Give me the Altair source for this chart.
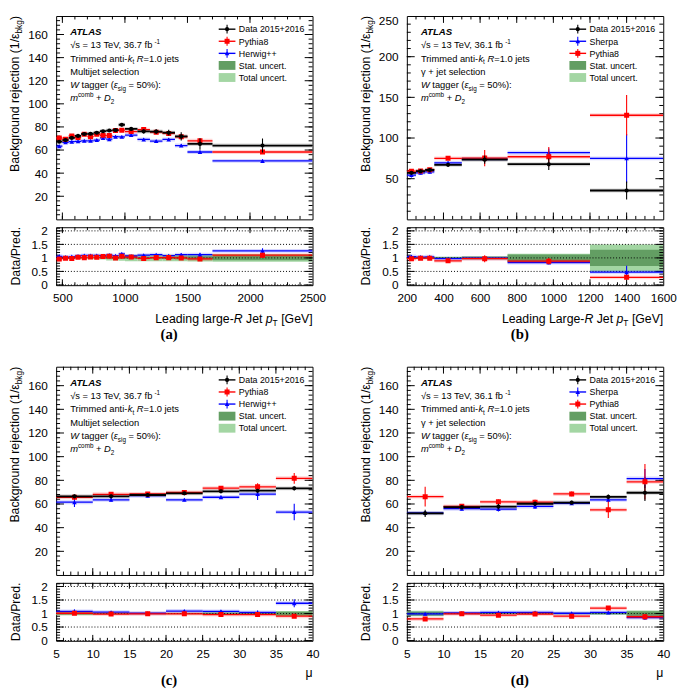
import altair as alt
import numpy as np
import pandas as pd

FONT = "Liberation Sans"
W, HR = 261, 59
VSP = 4
RED, BLUE, DKG, LTG = "#ff0000", "#0000ff", "#639e63", "#a3d6a3"
RDOM = [-0.01, 2.135]

# ---------------- data ----------------
# (a) multijet selection vs leading large-R jet pT [GeV]
a_edges = [450, 500, 550, 600, 650, 700, 750, 800, 850, 900, 950, 1000, 1100, 1200, 1300, 1400, 1500, 1700, 2500]
a_data = [67.2, 68.6, 70.5, 72.2, 73.9, 74.1, 75.0, 76.3, 76.9, 77.2, 81.9, 78.3, 76.1, 76.0, 75.0, 71.8, 65.3, 63.9]
a_data_err = [1.0, 1.0, 1.0, 1.0, 1.0, 1.0, 1.0, 1.0, 1.0, 1.2, 1.5, 1.5, 1.8, 2.0, 2.5, 3.5, 5.0, 6.0]
a_pythia = [70.5, 69.4, 72.2, 70.8, 73.6, 71.6, 73.6, 72.8, 72.5, 77.0, 77.2, 76.0, 77.7, 75.5, 74.4, 71.5, 68.0, 58.3]
a_pythia_err = [0.8, 0.8, 0.8, 0.8, 0.8, 0.8, 0.8, 0.8, 0.8, 0.9, 0.9, 0.9, 1.0, 1.0, 1.0, 1.2, 1.3, 1.5]
a_herwig = [63.3, 66.7, 67.2, 67.5, 68.0, 68.0, 68.6, 70.5, 69.4, 71.6, 71.4, 73.0, 69.2, 67.8, 69.2, 63.9, 58.3, 50.6]
a_herwig_err = [0.8, 0.8, 0.8, 0.8, 0.8, 0.8, 0.8, 0.8, 0.8, 0.9, 0.9, 0.9, 1.0, 1.0, 1.0, 1.2, 1.3, 1.5]
a_r_pythia = [0.96, 0.99, 0.98, 1.02, 1.01, 1.03, 1.02, 1.05, 1.06, 1.00, 1.06, 1.03, 0.98, 1.01, 1.01, 1.00, 0.96, 1.10]
a_r_pythia_err = [0.02, 0.02, 0.02, 0.02, 0.02, 0.02, 0.02, 0.02, 0.02, 0.02, 0.03, 0.03, 0.03, 0.03, 0.04, 0.05, 0.07, 0.09]
a_r_herwig = [1.06, 1.03, 1.05, 1.07, 1.09, 1.09, 1.09, 1.08, 1.11, 1.08, 1.15, 1.07, 1.10, 1.12, 1.08, 1.12, 1.12, 1.26]
a_r_herwig_err = [0.02, 0.02, 0.02, 0.02, 0.02, 0.02, 0.02, 0.02, 0.02, 0.02, 0.03, 0.03, 0.03, 0.03, 0.04, 0.05, 0.07, 0.10]
a_stat = [0.015, 0.015, 0.015, 0.015, 0.015, 0.015, 0.015, 0.015, 0.02, 0.02, 0.02, 0.03, 0.03, 0.03, 0.04, 0.05, 0.06, 0.09]
a_total = [0.03, 0.03, 0.03, 0.04, 0.04, 0.05, 0.05, 0.06, 0.10, 0.10, 0.11, 0.12, 0.12, 0.12, 0.12, 0.12, 0.13, 0.14]

# (b) gamma + jet selection vs leading large-R jet pT [GeV]
b_edges = [200, 250, 300, 350, 500, 750, 1200, 1600]
b_data = [57.2, 59.2, 60.7, 67.0, 73.4, 67.8, 35.5]
b_data_err = [2.0, 2.0, 2.0, 2.0, 5.0, 7.0, 11.0]
b_sherpa = [54.4, 57.2, 58.4, 69.4, 74.2, 82.0, 75.0]
b_sherpa_err = [3.0, 2.0, 2.0, 2.0, 2.0, 5.0, 30.0]
b_pythia = [59.2, 59.6, 61.1, 75.0, 75.3, 77.0, 128.0]
b_pythia_err = [2.0, 2.0, 2.0, 2.0, 10.0, 12.0, 25.0]
b_r_sherpa = [1.05, 1.03, 1.04, 0.97, 0.99, 0.83, 0.47]
b_r_sherpa_err = [0.04, 0.03, 0.03, 0.03, 0.03, 0.06, 0.24]
b_r_pythia = [0.97, 0.99, 0.99, 0.89, 0.97, 0.88, 0.28]
b_r_pythia_err = [0.03, 0.03, 0.03, 0.03, 0.13, 0.12, 0.06]
b_stat = [0.03, 0.03, 0.03, 0.03, 0.04, 0.13, 0.30]
b_total = [0.04, 0.04, 0.04, 0.04, 0.06, 0.15, 0.50]

# (c) multijet selection vs pile-up mu
mu_edges = [5, 10, 15, 20, 25, 30, 35, 40]
c_data = [66.5, 66.5, 67.6, 69.0, 70.7, 71.2, 73.2]
c_data_err = [1.5, 1.5, 1.2, 1.2, 1.3, 1.5, 1.5]
c_pythia = [65.7, 68.2, 68.5, 69.8, 73.4, 74.5, 81.7]
c_pythia_err = [1.5, 1.5, 1.2, 1.2, 1.5, 3.0, 4.5]
c_herwig = [61.5, 63.5, 67.0, 63.5, 65.7, 68.4, 53.2]
c_herwig_err = [4.0, 1.5, 1.2, 1.2, 1.5, 5.0, 7.0]
c_r_pythia = [1.01, 0.98, 0.99, 0.99, 0.96, 0.96, 0.90]
c_r_pythia_err = [0.03, 0.02, 0.02, 0.02, 0.02, 0.04, 0.05]
c_r_herwig = [1.08, 1.05, 1.01, 1.09, 1.08, 1.04, 1.38]
c_r_herwig_err = [0.07, 0.03, 0.02, 0.02, 0.03, 0.07, 0.15]
c_stat = [0.04, 0.02, 0.02, 0.02, 0.03, 0.03, 0.07]
c_total = [0.06, 0.03, 0.03, 0.03, 0.05, 0.05, 0.09]

# (d) gamma + jet selection vs pile-up mu
d_data = [52.1, 57.3, 57.8, 60.2, 61.2, 66.0, 69.5]
d_data_err = [3.0, 1.5, 2.5, 2.0, 1.5, 2.0, 7.0]
d_sherpa = [52.5, 56.0, 55.7, 57.9, 60.6, 63.5, 81.5]
d_sherpa_err = [1.5, 1.5, 2.0, 2.0, 1.5, 2.0, 8.0]
d_pythia = [66.2, 58.0, 61.8, 61.5, 68.5, 55.1, 78.7]
d_pythia_err = [8.3, 2.0, 2.0, 2.0, 2.0, 7.0, 15.0]
d_r_sherpa = [0.99, 1.02, 1.04, 1.04, 1.01, 1.04, 0.85]
d_r_sherpa_err = [0.03, 0.02, 0.03, 0.03, 0.02, 0.03, 0.08]
d_r_pythia = [0.80, 0.99, 0.94, 0.98, 0.90, 1.20, 0.88]
d_r_pythia_err = [0.06, 0.03, 0.03, 0.03, 0.03, 0.08, 0.10]
d_stat = [0.07, 0.02, 0.02, 0.02, 0.02, 0.03, 0.08]
d_total = [0.10, 0.03, 0.03, 0.03, 0.04, 0.05, 0.11]

# axis tick labels
pt_a_ticks = [500, 1000, 1500, 2000, 2500]
pt_b_ticks = [200, 400, 600, 800, 1000, 1200, 1400, 1600]
mu_ticks = [5, 10, 15, 20, 25, 30, 35, 40]
rej_ticks = [20, 40, 60, 80, 100, 120, 140, 160]
rej_b_ticks = [50, 100, 150, 200, 250]
ratio_ticks = [0, 0.5, 1, 1.5, 2]

# ---------------- helpers ----------------
ONE = pd.DataFrame({"o": [0]})
AW = {ch: 556 for ch in "0123456789"}
AW.update({' ': 278, '!': 278, '(': 333, ')': 333, '+': 584, ',': 278, '-': 333, '.': 278, '/': 278,
           ':': 278, '=': 584, '%': 889, '[': 278, ']': 278, '√': 549, 'ε': 439, 'γ': 500, 'μ': 576})
AW.update(dict(A=667, B=667, C=722, D=722, E=667, F=611, G=778, H=722, I=278, J=500, K=667, L=556, M=833,
               N=722, O=778, P=667, Q=778, R=722, S=667, T=611, U=722, V=667, W=944, X=667, Y=667, Z=611))
AW.update(dict(a=556, b=556, c=500, d=556, e=556, f=278, g=556, h=556, i=222, j=222, k=500, l=222, m=833,
               n=556, o=556, p=556, q=556, r=333, s=500, t=278, u=556, v=500, w=722, x=500, y=500, z=500))
BOLDW = dict(A=722, T=611, L=611, S=667)


def tw(s, size, bold=False):
    return sum((BOLDW.get(ch, AW.get(ch, 556)) if bold else AW.get(ch, 556)) for ch in s) / 1000 * size


def txt(s, x, y, size, style="normal", weight="normal", align="left", angle=0, font=FONT):
    kw = dict(align=align, baseline="alphabetic", fontSize=size, fontStyle=style,
              fontWeight=weight, font=font, color="black")
    if angle:
        kw["angle"] = angle
    return alt.Chart(ONE).mark_text(**kw).encode(x=alt.value(x), y=alt.value(y), text=alt.value(s))


def piece_fmt(kind, size):
    fs = size * 0.68 if kind in ("sub", "sup") else size
    off = size * 0.3 if kind == "sub" else (-size * 0.42 if kind == "sup" else 0)
    style = "italic" if kind in ("i", "bi") else "normal"
    weight = "bold" if kind == "bi" else "normal"
    return fs, off, style, weight


def rich(pieces, x, y, size):
    """left-anchored run of text pieces (normal / italic / sub / superscript)"""
    out, pos = [], 0.0
    for s, kind in pieces:
        fs, off, style, weight = piece_fmt(kind, size)
        lead = len(s) - len(s.lstrip(" "))
        core = s.strip(" ")
        if core:
            out.append(txt(core, x + pos + tw(" " * lead, fs), y + off, fs, style, weight))
        pos += tw(s, fs, kind == "bi")
    return out


def rich_end(pieces, x, y, size, angle=0):
    """run of text pieces whose END sits at (x, y); for angle 270 the text reads upwards and ends at y"""
    out, pos = [], 0.0
    for s, kind in reversed(pieces):
        fs, off, style, weight = piece_fmt(kind, size)
        trail = len(s) - len(s.rstrip(" "))
        core = s.strip(" ")
        p = pos + tw(" " * trail, fs)
        if core:
            if angle == 270:
                out.append(txt(core, x + off, y + p, fs, style, weight, align="right", angle=270))
            else:
                out.append(txt(core, x - p, y + off, fs, style, weight, align="right"))
        pos += tw(s, fs, kind == "bi")
    return out


def inside(vals, dom):
    return [v for v in vals if dom[0] + 1e-9 < v < dom[1] - 1e-9]


def yaxis(vals, flush=False):
    return alt.Axis(values=vals, format=".2~f", title=None, ticks=False, domain=False, grid=False,
                    labelFont=FONT, labelFontSize=12, labelColor="black", labelPadding=9,
                    labelFlush=flush, labelOverlap=False)


def xaxis(vals):
    return alt.Axis(values=vals, format=".2~f", title=None, ticks=False, domain=False, grid=False,
                    labelFont=FONT, labelFontSize=12, labelColor="black", labelPadding=8,
                    labelFlush=False, labelOverlap=False)


class Pad:
    """encoding factories for one pad, so that every layer carries the same scales and axes"""

    def __init__(self, xs, ys, xa, ya, xdom, ydom, w, h):
        self.xs, self.ys, self.xa, self.ya = xs, ys, xa, ya
        self.xdom, self.ydom, self.w, self.h = xdom, ydom, w, h

    def X(self, f):
        return alt.X(f + ":Q", scale=self.xs, axis=self.xa)

    def Y(self, f):
        return alt.Y(f + ":Q", scale=self.ys, axis=self.ya)


def tick_layers(P, xmaj, xmin, ymaj, ymin, lx, ly):
    L = []
    for vals, ln in ((ymaj, ly[0]), (ymin, ly[1])):
        df = pd.DataFrame({"t": inside(vals, P.ydom)})
        for a, b in ((0, ln), (P.w - ln, P.w)):
            L.append(alt.Chart(df).mark_rule(color="black", strokeWidth=1).encode(
                y=P.Y("t"), x=alt.value(a), x2=alt.value(b)))
    for vals, ln in ((xmaj, lx[0]), (xmin, lx[1])):
        df = pd.DataFrame({"t": inside(vals, P.xdom)})
        for a, b in ((P.h, P.h - ln), (0, ln)):
            L.append(alt.Chart(df).mark_rule(color="black", strokeWidth=1).encode(
                x=P.X("t"), y=alt.value(a), y2=alt.value(b)))
    return L


def sdf(edges, vals, errs):
    lo, hi = edges[:-1], edges[1:]
    return pd.DataFrame({"lo": lo, "hi": hi, "c": [(l + h) / 2 for l, h in zip(lo, hi)], "v": vals,
                         "v1": [v - e for v, e in zip(vals, errs)], "v2": [v + e for v, e in zip(vals, errs)]})


def series(df, P, color, shape, size, lw):
    b = alt.Chart(df)
    return [
        b.mark_rule(color=color, strokeWidth=4, opacity=0.16, clip=True).encode(x=P.X("lo"), x2="hi:Q", y=P.Y("v")),
        b.mark_rule(color=color, strokeWidth=lw, clip=True).encode(x=P.X("lo"), x2="hi:Q", y=P.Y("v")),
        b.mark_rule(color=color, strokeWidth=1.1, clip=True).encode(x=P.X("c"), y=P.Y("v1"), y2="v2:Q"),
        b.mark_point(shape=shape, size=size, filled=True, opacity=1, color=color, clip=True).encode(
            x=P.X("c"), y=P.Y("v")),
    ]


def legend_layers(entries):
    L = []
    x0, x1, xc, tx = 165.5, 182.5, 174, 186
    for i, e in enumerate(entries):
        yb = 16.7 + 12.3 * i
        yc = yb - 3.3
        if e[1] == "pt":
            col = e[2]
            L.append(alt.Chart(ONE).mark_rule(color=col, strokeWidth=1.4).encode(
                x=alt.value(x0), x2=alt.value(x1), y=alt.value(yc)))
            L.append(alt.Chart(ONE).mark_rule(color=col, strokeWidth=1.1).encode(
                x=alt.value(xc), y=alt.value(yc - 4.5), y2=alt.value(yc + 4.5)))
            L.append(alt.Chart(ONE).mark_point(shape=e[3], size=e[4], filled=True, opacity=1, color=col).encode(
                x=alt.value(xc), y=alt.value(yc)))
        else:
            L.append(alt.Chart(ONE).mark_rect(color=e[2]).encode(
                x=alt.value(x0), x2=alt.value(x1), y=alt.value(yc - 4.5), y2=alt.value(yc + 4.5)))
        L.append(txt(e[0], tx, yb, 9))
    return L


YTITLE = [("Background rejection (1/", "n"), ("ε", "n"), ("bkg", "sub"), (")", "n")]
SZ_D, SZ_P, SZ_T = 18, 26, 22   # marker areas: data circle, Pythia square, triangle


def make_panel(C):
    xdom, ydom, H = C["xdom"], C["ydom"], C["h"]
    xs = alt.Scale(domain=xdom, nice=False, zero=False)
    ys = alt.Scale(domain=ydom, nice=False, zero=False)
    rs = alt.Scale(domain=RDOM, nice=False, zero=False)
    edges = C["edges"]
    PM = Pad(xs, ys, None, yaxis(C["ylab"], flush=True), xdom, ydom, W, H)
    PR = Pad(xs, rs, xaxis(C["xmaj"]), yaxis(ratio_ticks), xdom, RDOM, W, HR)

    # ---- main pad ----
    M = tick_layers(PM, C["xmaj"], C["xmin"], C["ylab"], C["ymin"], (7, 3.5), (8, 4))
    for m in C["models"]:
        M += series(sdf(edges, m["v"], m["e"]), PM, m["color"], m["shape"], m["size"], 1.3)
    M += series(sdf(edges, C["data"], C["data_err"]), PM, "black", "circle", SZ_D, 1.8)
    ann = [
        [("ATLAS", "bi")],
        [("√s = 13 TeV, " + C["lumi"] + " fb", "n"), ("-1", "sup")],
        [("Trimmed anti-", "n"), ("k", "i"), ("t", "sub"), (" ", "n"), ("R", "i"), ("=1.0 jets", "n")],
        [(C["sel"], "n")],
        [("W", "i"), (" tagger (", "n"), ("ε", "i"), ("sig", "sub"), (" = 50%):", "n")],
        [("m", "i"), ("comb", "sup"), (" + ", "n"), ("D", "i"), ("2", "sub")],
    ]
    for i, line in enumerate(ann):
        M += rich(line, 14.3, 19.5 + 13.45 * i, 9.5 if i else 9.8)
    M += legend_layers(C["legend"])
    M += rich_end(YTITLE, -38, 0, 12.5, angle=270)
    main = alt.layer(*M).properties(width=W, height=H)

    # ---- ratio pad ----
    bd = pd.DataFrame({"lo": edges[:-1], "hi": edges[1:],
                       "s1": [1 - s for s in C["stat"]], "s2": [1 + s for s in C["stat"]],
                       "t1": [1 - s for s in C["total"]], "t2": [1 + s for s in C["total"]]})
    R = [alt.Chart(bd).mark_rect(color=LTG, clip=True).encode(x=PR.X("lo"), x2="hi:Q", y=PR.Y("t1"), y2="t2:Q"),
         alt.Chart(bd).mark_rect(color=DKG, clip=True).encode(x=PR.X("lo"), x2="hi:Q", y=PR.Y("s1"), y2="s2:Q"),
         alt.Chart(pd.DataFrame({"g": ratio_ticks})).mark_rule(
             color="black", strokeWidth=1, strokeDash=[1, 2]).encode(y=PR.Y("g"), x=alt.value(0), x2=alt.value(W))]
    R += tick_layers(PR, C["xmaj"], C["xmin"], ratio_ticks,
                     list(np.round(np.arange(0.1, 2.15, 0.1), 2)), (6, 3), (8, 4))
    for m in C["models"]:
        R += series(sdf(edges, m["r"], m["re"]), PR, m["color"], m["shape"], m["size"], 1.3)
    R.append(txt("Data/Pred.", -37, HR / 2, 12.5, align="center", angle=270))
    R += rich_end(C["xtitle"], W, HR + C["xt_dy"], 12.5)
    R.append(txt(C["label"], 115, HR + C["lab_dy"], 15, weight="bold", align="center", font="Liberation Serif"))
    ratio = alt.layer(*R).properties(width=W, height=HR)
    return alt.vconcat(main, ratio, spacing=VSP)


def mod(v, e, r, re, color, shape, size):
    return dict(v=v, e=e, r=r, re=re, color=color, shape=shape, size=size)


PY = lambda v, e, r, re: mod(v, e, r, re, RED, "square", SZ_P)
TRI = lambda v, e, r, re: mod(v, e, r, re, BLUE, "triangle-up", SZ_T)

LEG_MJ = [("Data 2015+2016", "pt", "black", "circle", SZ_D), ("Pythia8", "pt", RED, "square", SZ_P),
          ("Herwig++", "pt", BLUE, "triangle-up", SZ_T), ("Stat. uncert.", "box", DKG), ("Total uncert.", "box", LTG)]
LEG_GJ = [("Data 2015+2016", "pt", "black", "circle", SZ_D), ("Sherpa", "pt", BLUE, "triangle-up", SZ_T),
          ("Pythia8", "pt", RED, "square", SZ_P), ("Stat. uncert.", "box", DKG), ("Total uncert.", "box", LTG)]

PT_A_TITLE = [("Leading large-", "n"), ("R", "i"), (" Jet ", "n"), ("p", "i"), ("T", "sub"), (" [GeV]", "n")]
PT_B_TITLE = [("Leading Large-", "n"), ("R", "i"), (" Jet ", "n"), ("p", "i"), ("T", "sub"), (" [GeV]", "n")]
MU_TITLE = [("μ", "n")]

panel_a = make_panel(dict(
    h=207, xdom=[450, 2500], ydom=[0, 176], edges=a_edges, data=a_data, data_err=a_data_err,
    models=[TRI(a_herwig, a_herwig_err, a_r_herwig, a_r_herwig_err),
            PY(a_pythia, a_pythia_err, a_r_pythia, a_r_pythia_err)],
    stat=a_stat, total=a_total, xmaj=pt_a_ticks, xmin=list(range(500, 2501, 100)),
    ylab=rej_ticks, ymin=list(range(4, 176, 4)), lumi="36.7", sel="Multijet selection",
    legend=LEG_MJ, xtitle=PT_A_TITLE, xt_dy=38, label="(a)", lab_dy=55))

panel_b = make_panel(dict(
    h=207, xdom=[200, 1600], ydom=[0, 250], edges=b_edges, data=b_data, data_err=b_data_err,
    models=[TRI(b_sherpa, b_sherpa_err, b_r_sherpa, b_r_sherpa_err),
            PY(b_pythia, b_pythia_err, b_r_pythia, b_r_pythia_err)],
    stat=b_stat, total=b_total, xmaj=pt_b_ticks, xmin=list(range(200, 1601, 50)),
    ylab=rej_b_ticks, ymin=list(range(10, 250, 10)), lumi="36.1", sel="γ + jet selection",
    legend=LEG_GJ, xtitle=PT_B_TITLE, xt_dy=38, label="(b)", lab_dy=55))

panel_c = make_panel(dict(
    h=212, xdom=[5, 40], ydom=[0, 176], edges=mu_edges, data=c_data, data_err=c_data_err,
    models=[TRI(c_herwig, c_herwig_err, c_r_herwig, c_r_herwig_err),
            PY(c_pythia, c_pythia_err, c_r_pythia, c_r_pythia_err)],
    stat=c_stat, total=c_total, xmaj=mu_ticks, xmin=list(range(5, 41, 1)),
    ylab=rej_ticks, ymin=list(range(4, 176, 4)), lumi="36.7", sel="Multijet selection",
    legend=LEG_MJ, xtitle=MU_TITLE, xt_dy=37, label="(c)", lab_dy=45))

panel_d = make_panel(dict(
    h=212, xdom=[5, 40], ydom=[0, 176], edges=mu_edges, data=d_data, data_err=d_data_err,
    models=[TRI(d_sherpa, d_sherpa_err, d_r_sherpa, d_r_sherpa_err),
            PY(d_pythia, d_pythia_err, d_r_pythia, d_r_pythia_err)],
    stat=d_stat, total=d_total, xmaj=mu_ticks, xmin=list(range(5, 41, 1)),
    ylab=rej_ticks, ymin=list(range(4, 176, 4)), lumi="36.1", sel="γ + jet selection",
    legend=LEG_GJ, xtitle=MU_TITLE, xt_dy=37, label="(d)", lab_dy=45))

row1 = alt.hconcat(panel_a, panel_b, spacing=33)
row2 = alt.hconcat(panel_c, panel_d, spacing=39)

chart = alt.vconcat(row1, row2, spacing=23).properties(padding=0).configure_view(
    stroke="black", strokeWidth=1).configure_axis(labelFont=FONT)

chart.save("out.html", embed_options={"renderer": "svg", "actions": False})
